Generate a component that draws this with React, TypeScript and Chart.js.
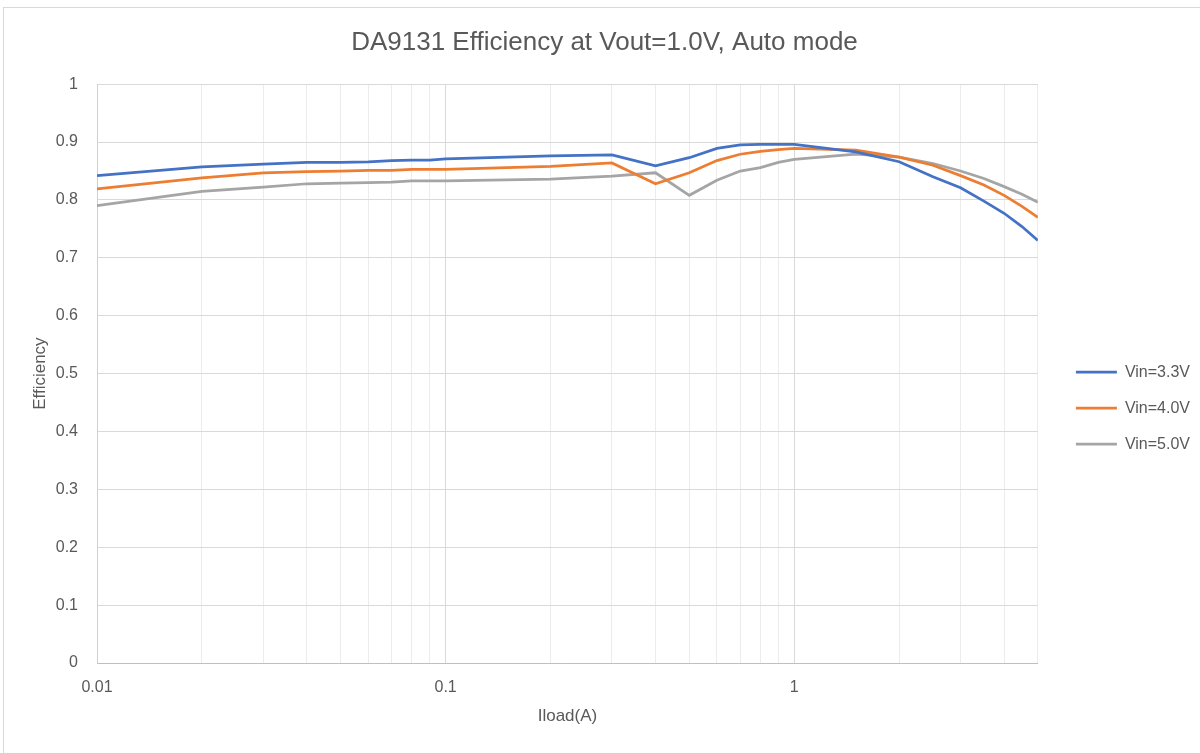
import React, { useEffect, useRef } from "react";
import { Chart, registerables } from "chart.js";

Chart.register(...registerables);

// ---- data ----
const loadCurrent = [
  0.01, 0.02, 0.03, 0.04, 0.05, 0.06, 0.07, 0.08, 0.09,
  0.1, 0.2, 0.3, 0.4, 0.5, 0.6, 0.7, 0.8, 0.9,
  1, 1.5, 2, 2.5, 3, 3.5, 4, 4.5, 5,
];
const effVin33 = [
  0.842, 0.857, 0.862, 0.865, 0.865, 0.866, 0.868, 0.869, 0.869,
  0.871, 0.876, 0.878, 0.859, 0.873, 0.889, 0.895, 0.896, 0.896,
  0.896, 0.883, 0.866, 0.840, 0.821, 0.798, 0.777, 0.754, 0.730,
];
const effVin40 = [
  0.819, 0.838, 0.847, 0.849, 0.850, 0.851, 0.851, 0.853, 0.853,
  0.853, 0.858, 0.864, 0.828, 0.847, 0.868, 0.879, 0.884, 0.887,
  0.889, 0.886, 0.874, 0.860, 0.842, 0.826, 0.808, 0.789, 0.770,
];
const effVin50 = [
  0.790, 0.815, 0.822, 0.828, 0.829, 0.830, 0.831, 0.833, 0.833,
  0.833, 0.836, 0.841, 0.847, 0.808, 0.834, 0.850, 0.856, 0.865,
  0.870, 0.879, 0.874, 0.863, 0.850, 0.837, 0.823, 0.810, 0.796,
];
const seriesLabels = ["Vin=3.3V", "Vin=4.0V", "Vin=5.0V"];
const seriesColors = ["#4472C4", "#ED7D31", "#A5A5A5"];

const xTickValues = [
  0.01, 0.02, 0.03, 0.04, 0.05, 0.06, 0.07, 0.08, 0.09,
  0.1, 0.2, 0.3, 0.4, 0.5, 0.6, 0.7, 0.8, 0.9,
  1, 2, 3, 4, 5,
];
const xLabelValues = [0.01, 0.1, 1];
const xLabelTexts = ["0.01", "0.1", "1"];
const yTickValues = [0, 0.1, 0.2, 0.3, 0.4, 0.5, 0.6, 0.7, 0.8, 0.9, 1];
const yTickLabels = ["0", "0.1", "0.2", "0.3", "0.4", "0.5", "0.6", "0.7", "0.8", "0.9", "1"];

const titleText = "DA9131 Efficiency at Vout=1.0V, Auto mode";
const xTitle = "Iload(A)";
const yTitle = "Efficiency";

const TEXT = "#595959";
const GRID_MAJOR = "#d9d9d9";
const GRID_MINOR = "#ececec";

const isLabelValue = (v: number) =>
  xLabelValues.findIndex((d) => Math.abs(d - v) < d * 1e-6);

const framePlugin = {
  id: "frame",
  beforeDraw(chart: any) {
    const ctx = chart.ctx;
    ctx.save();
    ctx.fillStyle = "#ffffff";
    ctx.fillRect(0, 0, chart.width, chart.height);
    ctx.strokeStyle = "#d9d9d9";
    ctx.lineWidth = 1;
    ctx.strokeRect(3.5, 7.5, chart.width + 10, chart.height + 10);
    ctx.restore();
  },
};

const placePlugin = {
  id: "place",
  afterLayout(chart: any) {
    const ca = chart.chartArea;
    const lg = chart.legend;
    if (lg) {
      lg.left = ca.right + 18;
      lg.right = lg.left + lg.width;
      lg.top = ca.top + 34.5;
      lg.bottom = lg.top + lg.height;
    }
    const tb = chart.titleBlock;
    if (tb) {
      tb.left = 0;
      tb.right = 1209;
      tb.width = 1209;
    }
  },
};

export default function App() {
  const ref = useRef<HTMLCanvasElement | null>(null);

  useEffect(() => {
    if (!ref.current) return;
    Chart.defaults.font.family = "'Liberation Sans', Arial, sans-serif";
    Chart.defaults.color = TEXT;

    const series = [effVin33, effVin40, effVin50];
    const chart = new Chart(ref.current, {
      type: "line",
      data: {
        datasets: series.map((vals, si) => ({
          label: seriesLabels[si],
          data: loadCurrent.map((x, i) => ({ x, y: vals[i] })),
          borderColor: seriesColors[si],
          backgroundColor: seriesColors[si],
          borderWidth: 2.75,
          pointRadius: 0,
          pointStyle: "line",
          tension: 0,
          fill: false,
        })),
      },
      options: {
        responsive: false,
        animation: false,
        layout: { padding: { left: 0, top: 0, right: 18, bottom: 0 } },
        plugins: {
          title: {
            display: true,
            text: titleText,
            color: TEXT,
            font: { size: 26, weight: "normal" },
            padding: { top: 27, bottom: 26 },
          },
          legend: {
            position: "right",
            fullSize: false,
            labels: {
              usePointStyle: true,
              pointStyle: "line",
              pointStyleWidth: 41,
              padding: 20,
              color: TEXT,
              font: { size: 16 },
            },
          },
          tooltip: { enabled: false },
        },
        scales: {
          x: {
            type: "logarithmic",
            min: 0.01,
            max: 5,
            afterBuildTicks: (scale: any) => {
              scale.ticks = xTickValues.map((v) => ({ value: v }));
            },
            afterFit: (scale: any) => {
              scale.height = 90;
            },
            ticks: {
              autoSkip: false,
              maxRotation: 0,
              padding: 15,
              color: TEXT,
              font: { size: 16 },
              callback: (value: any) => {
                const i = isLabelValue(Number(value));
                return i >= 0 ? xLabelTexts[i] : "";
              },
            },
            grid: {
              drawTicks: false,
              color: (ctx: any) =>
                ctx.tick && isLabelValue(ctx.tick.value) >= 0 ? GRID_MAJOR : GRID_MINOR,
              lineWidth: 1,
            },
            border: { display: true, color: "#bfbfbf", width: 1 },
            title: {
              display: true,
              text: xTitle,
              color: TEXT,
              font: { size: 17 },
              padding: { top: 0, bottom: 26 },
            },
          },
          y: {
            type: "linear",
            min: 0,
            max: 1,
            afterBuildTicks: (scale: any) => {
              scale.ticks = yTickValues.map((v) => ({ value: v }));
            },
            afterFit: (scale: any) => {
              scale.width = 97;
            },
            ticks: {
              padding: 19,
              color: TEXT,
              font: { size: 16 },
              callback: (_v: any, index: number) => yTickLabels[index],
            },
            grid: {
              drawTicks: false,
              color: GRID_MAJOR,
              lineWidth: 1,
            },
            border: { display: true, color: "#d0d0d0", width: 1 },
            title: {
              display: true,
              text: yTitle,
              color: TEXT,
              font: { size: 17 },
              padding: { top: 30, bottom: 0 },
            },
          },
        },
      },
      plugins: [framePlugin, placePlugin],
    } as any);

    return () => chart.destroy();
  }, []);

  return (
    <canvas
      ref={ref}
      width={1200}
      height={753}
      style={{ position: "absolute", left: 0, top: 0, width: 1200, height: 753 }}
    />
  );
}
